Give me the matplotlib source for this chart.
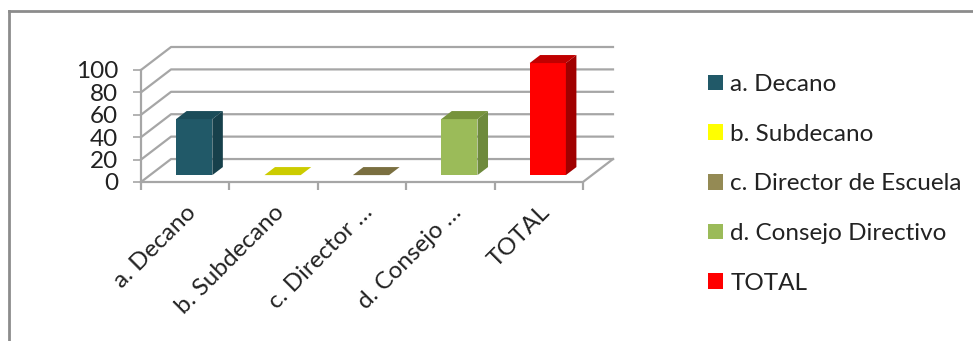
import matplotlib
matplotlib.use("Agg")
import matplotlib.pyplot as plt
from matplotlib.patches import Polygon, Patch
import matplotlib.lines as mlines

# data
categories = ["a. Decano", "b. Subdecano", "c. Director de Escuela", "d. Consejo Directivo", "TOTAL"]
tick_labels = ["a. Decano", "b. Subdecano", "c. Director …", "d. Consejo …", "TOTAL"]
values = [50, 0, 0, 50, 100]
yticks = [0, 20, 40, 60, 80, 100]

# colours: front, side, top
front_cols = ["#215968", "#FFFF00", "#948A54", "#9BBB59", "#FF0000"]
side_cols = ["#17404B", "#B8B800", "#6B6238", "#6E8A3C", "#A00000"]
top_cols = ["#1B4C59", "#CCCC00", "#7A6F40", "#77933C", "#C00000"]

plt.rcParams['font.family'] = ['Lato', 'DejaVu Sans']
FS = 17.5

fig = plt.figure(figsize=(9.73, 3.41), dpi=100)
W, H = 973.0, 341.0

# depth of the fake 3d box in data units
dx, dy = 0.34, 20.5
ax = fig.add_axes([141 / W, (H - 182) / H, (613 - 141) / W, (182 - 47) / H])
ax.set_xlim(0, len(categories) + dx)
ax.set_ylim(0, 100 + dy)
ax.patch.set_alpha(0)
for s in ax.spines.values():
    s.set_visible(False)

grid_c = "#A6A6A6"
lw = 1.6
n = len(categories)
# walls / grid
for v in yticks:
    ax.add_line(mlines.Line2D([0, dx, n + dx], [v, v + dy, v + dy], color=grid_c, lw=lw, clip_on=False, zorder=1))
ax.add_line(mlines.Line2D([0, 0], [0, 100], color=grid_c, lw=lw, clip_on=False, zorder=1))
# floor
ax.add_line(mlines.Line2D([0, n, n + dx], [0, 0, dy], color=grid_c, lw=lw, clip_on=False, zorder=1))

# bars
bw = 0.41
f0, f1 = 0.3, 0.65
for i, v in enumerate(values):
    xl = i + 0.5 - bw / 2 + f0 * dx
    xr = xl + bw
    yb = f0 * dy
    ddx = (f1 - f0) * dx
    ddy = (f1 - f0) * dy
    if v > 0:
        ax.add_patch(Polygon([(xl, yb), (xr, yb), (xr, yb + v), (xl, yb + v)], closed=True,
                             facecolor=front_cols[i], edgecolor="none", zorder=3))
        ax.add_patch(Polygon([(xr, yb), (xr + ddx, yb + ddy), (xr + ddx, yb + ddy + v), (xr, yb + v)],
                             closed=True, facecolor=side_cols[i], edgecolor="none", zorder=3))
    ax.add_patch(Polygon([(xl, yb + v), (xr, yb + v), (xr + ddx, yb + ddy + v), (xl + ddx, yb + ddy + v)],
                         closed=True, facecolor=top_cols[i], edgecolor="none", zorder=3))

# y ticks
ax.set_yticks(yticks)
ax.set_yticklabels([str(t) for t in yticks], fontsize=FS, color="#222222")
ax.tick_params(axis="y", direction="out", length=5.5, width=1.2, color=grid_c, pad=11)

# x ticks: marks at boundaries, labels at centres
ax.set_xticks(range(n + 1))
ax.set_xticklabels([""] * (n + 1))
ax.set_xticks([i + 0.5 for i in range(n)], minor=True)
ax.set_xticklabels(tick_labels, minor=True, rotation=45, ha="right", rotation_mode="anchor",
                   fontsize=FS, color="#222222")
ax.tick_params(axis="x", which="major", direction="out", length=6, width=1.6, color=grid_c)
ax.tick_params(axis="x", which="minor", length=0, pad=14)

# legend
handles = [Patch(facecolor=c, edgecolor="none") for c in front_cols]
leg = fig.legend(handles, categories, loc="upper left", bbox_to_anchor=(708 / W, 1 - 74 / H),
                 frameon=False, fontsize=FS, handlelength=0.62, handleheight=0.62,
                 handletextpad=0.3, labelspacing=1.18, borderpad=0, borderaxespad=0)
for t in leg.get_texts():
    t.set_color("#222222")

# outer frame (top and left visible)
fig.add_artist(mlines.Line2D([9 / W, 1], [1 - 11 / H, 1 - 11 / H], transform=fig.transFigure, color="#8C8C8C", lw=2))
fig.add_artist(mlines.Line2D([9 / W, 9 / W], [1 - 11 / H, 0], transform=fig.transFigure, color="#8C8C8C", lw=2))

fig.savefig("out.png", dpi=100, facecolor="white")
